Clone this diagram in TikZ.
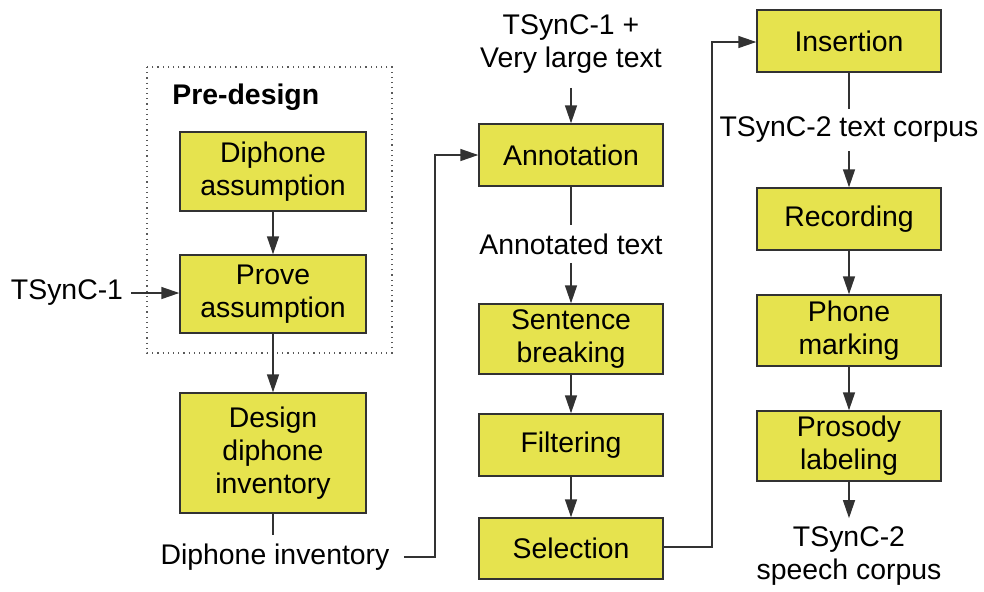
\documentclass[tikz,border=0pt]{standalone}
\usepackage{fontspec}
\setmainfont{Liberation Sans}
\usetikzlibrary{arrows.meta}
\definecolor{boxyellow}{RGB}{230,227,78}
\definecolor{linegray}{RGB}{50,50,50}
\begin{document}
\begin{tikzpicture}[x=0.5pt,y=-0.5pt,
  font=\fontsize{14.2}{16.6}\selectfont,
  stepbox/.style={draw=linegray,line width=0.7pt,fill=boxyellow,align=center,inner sep=0pt},
  lbl/.style={align=center,inner sep=4pt},
  conn/.style={draw=linegray,line width=0.7pt},
  arr/.style={conn,-{Triangle[length=9pt,width=6pt]}}]
\useasboundingbox (0,0) rectangle (984,591);
% pre-design frame
\draw[gray!70!black,line width=0.6pt,dotted] (147,67) rectangle (392,353);
\node[font=\fontsize{14.2}{16.6}\selectfont\bfseries,anchor=west,inner sep=0pt] (pre) at (172,97) {Pre-design};
% left column
\node[stepbox,minimum width=93pt,minimum height=39.5pt] (dip) at (273,171.5) {Diphone\\assumption};
\node[stepbox,minimum width=93pt,minimum height=39pt] (prove) at (273,294) {Prove\\assumption};
\node[stepbox,minimum width=93pt,minimum height=60pt] (design) at (273,453) {Design\\diphone\\inventory};
\node[lbl] (ts1) at (67,293) {TSynC-1};
\node[lbl] (dinv) at (275,557) {Diphone inventory};
% middle column
\node[lbl] (tsvl) at (571,44) {TSynC-1 +\\Very large text};
\node[stepbox,minimum width=92pt,minimum height=31pt] (annot) at (571,155) {Annotation};
\node[lbl] (antext) at (571,244) {Annotated text};
\node[stepbox,minimum width=92pt,minimum height=35pt] (sent) at (571,339) {Sentence\\breaking};
\node[stepbox,minimum width=92pt,minimum height=31pt] (filt) at (571,445) {Filtering};
\node[stepbox,minimum width=92pt,minimum height=30.5pt] (sel) at (571,548.5) {Selection};
% right column
\node[stepbox,minimum width=92pt,minimum height=31pt] (ins) at (849,41) {Insertion};
\node[lbl] (ts2t) at (849,130) {TSynC-2 text corpus};
\node[stepbox,minimum width=92pt,minimum height=31pt] (rec) at (849,219) {Recording};
\node[stepbox,minimum width=92pt,minimum height=35.5pt] (phone) at (849,330.5) {Phone\\marking};
\node[stepbox,minimum width=92pt,minimum height=35pt] (pros) at (849,446) {Prosody\\labeling};
\node[lbl] (ts2s) at (849,556) {TSynC-2\\speech corpus};
% connectors
\draw[arr] (dip) -- (prove);
\draw[arr] (ts1) -- (prove.west |- ts1);
\draw[arr] (prove) -- (design);
\draw[conn] (design.south) -- (design.south |- dinv.north);
\coordinate (c1) at (435,557);
\coordinate (c2) at (435,155);
\draw[arr,shorten <=3pt] (dinv.east) -- (c1) -- (c2) -- (annot.west);
\draw[arr,shorten <=3pt] (tsvl) -- (annot);
\draw[conn] (annot) -- (antext);
\draw[arr] (antext) -- (sent);
\draw[arr] (sent) -- (filt);
\draw[arr] (filt) -- (sel);
\coordinate (c3) at (712,547);
\coordinate (c4) at (712,42);
\draw[arr] (sel.east |- c3) -- (c3) -- (c4) -- (ins.west |- c4);
\draw[conn] (ins) -- (ts2t);
\draw[arr] (ts2t) -- (rec);
\draw[arr] (rec) -- (phone);
\draw[arr] (phone) -- (pros);
\draw[arr] (pros) -- (ts2s);
\end{tikzpicture}
\end{document}
